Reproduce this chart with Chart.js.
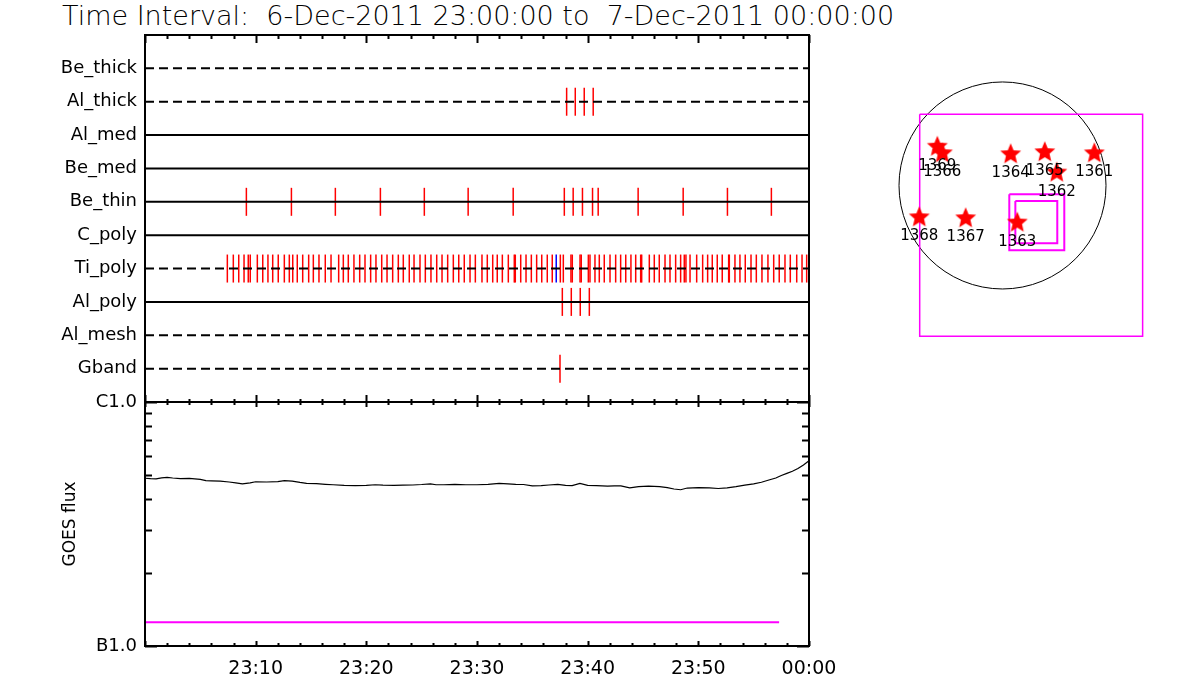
<!DOCTYPE html>
<html><head><meta charset="utf-8">
<script src="https://cdn.jsdelivr.net/npm/chart.js@4.4.1/dist/chart.umd.min.js"></script>
<style>
html,body{margin:0;padding:0;background:#fff;width:1200px;height:700px;overflow:hidden;}
#title{position:absolute;left:62px;top:0px;font-family:'DejaVu Sans';font-weight:200;font-size:27px;white-space:pre;color:#000;line-height:32px;}
canvas{position:absolute;}
#top{left:0;top:0;}
#goes{left:0;top:380px;}
#map{left:880px;top:50px;}
</style></head><body>
<div id="title">Time Interval:  6-Dec-2011 23:00:00 to  7-Dec-2011 00:00:00</div>
<canvas id="top" width="860" height="410"></canvas>
<canvas id="goes" width="860" height="300"></canvas>
<canvas id="map" width="300" height="310"></canvas>
<script>
// ---------------- DATA ----------------
// minutes after 23:00 on 6-Dec-2011
const timeTickMinutes = [10, 20, 30, 40, 50, 60];
const timeTickLabels = ['23:10', '23:20', '23:30', '23:40', '23:50', '00:00'];
const rowNames = ['Be_thick', 'Al_thick', 'Al_med', 'Be_med', 'Be_thin', 'C_poly', 'Ti_poly', 'Al_poly', 'Al_mesh', 'Gband'];
const alThickTimes = [38.10, 38.88, 39.69, 40.50];
const beThinTimes = [9.16, 13.23, 17.20, 21.27, 25.24, 29.20, 33.27, 37.89, 38.69, 39.53, 40.44, 40.95, 44.56, 48.63, 52.63, 56.60];
const tiPolyTimes = [7.44, 7.98, 8.47, 8.95, 9.33, 9.51, 10.15, 10.64, 11.11, 11.54, 12.04, 12.59, 13.04, 13.35, 13.76, 14.25, 14.79, 15.21, 15.72, 16.29, 16.81, 17.50, 17.92, 18.37, 18.88, 19.40, 19.88, 20.39, 20.87, 21.39, 21.87, 22.38, 22.89, 23.34, 23.88, 24.31, 24.85, 25.33, 25.84, 26.36, 26.84, 27.35, 27.86, 28.35, 28.85, 29.37, 29.85, 30.45, 30.93, 31.42, 31.83, 32.29, 32.83, 33.37, 33.46, 33.95, 34.43, 34.91, 35.39, 35.85, 36.35, 36.80, 37.53, 37.80, 38.49, 38.61, 39.31, 39.42, 40.06, 40.21, 40.66, 41.05, 41.50, 42.02, 42.53, 42.98, 43.44, 43.91, 44.34, 44.79, 44.88, 45.57, 46.02, 46.47, 46.99, 47.44, 47.95, 48.40, 48.73, 48.88, 49.25, 49.85, 50.39, 50.84, 51.26, 51.71, 52.16, 52.74, 52.80, 53.31, 53.76, 54.24, 54.76, 55.24, 55.75, 56.29, 56.81, 57.31, 57.83, 58.31, 58.89, 59.37, 59.79];
const tiPolyBlueTimes = [37.16];
const alPolyTimes = [37.71, 38.52, 39.33, 40.15];
const gbandTimes = [37.50];

const goesMinutes = [0, 0.5, 1, 1.5, 2, 2.5, 3.2, 4, 5, 5.5, 6, 6.8, 7.6, 8.2, 8.8, 9.5, 10, 11, 12, 12.6, 13.3, 14, 14.6, 15.5, 16.3, 17, 18, 19, 20, 20.8, 21.5, 22.5, 23.3, 24.2, 25, 25.8, 26.3, 27, 28, 29, 30, 31, 32, 32.8, 33.5, 34.2, 35, 35.8, 36.5, 37.3, 38, 38.6, 39.3, 40, 40.8, 41.8, 42.4, 43, 43.8, 44.6, 45.5, 46.5, 47.2, 47.8, 48.4, 49, 50, 51, 51.8, 52.6, 53.4, 54.2, 55, 55.7, 56.3, 57, 57.5, 58, 58.5, 59, 59.5, 60];
// GOES flux in units of 1e-7 W/m^2
const goesFlux = [4.87, 4.85, 4.84, 4.89, 4.91, 4.88, 4.85, 4.86, 4.82, 4.76, 4.75, 4.74, 4.70, 4.66, 4.62, 4.66, 4.71, 4.70, 4.72, 4.76, 4.74, 4.68, 4.64, 4.63, 4.60, 4.58, 4.55, 4.54, 4.55, 4.58, 4.56, 4.55, 4.56, 4.57, 4.59, 4.62, 4.58, 4.58, 4.60, 4.58, 4.58, 4.60, 4.64, 4.62, 4.60, 4.59, 4.53, 4.54, 4.57, 4.60, 4.55, 4.54, 4.64, 4.55, 4.54, 4.52, 4.53, 4.53, 4.45, 4.50, 4.52, 4.50, 4.46, 4.40, 4.37, 4.44, 4.46, 4.45, 4.42, 4.45, 4.50, 4.56, 4.62, 4.69, 4.78, 4.88, 5.00, 5.10, 5.20, 5.34, 5.52, 5.75];
const backgroundLevel = 1.25;   // 1e-7 W/m^2
const backgroundMinutes = [0, 57.3];
const goesTickValues = [1e-7, 1e-6];
const goesTickLabels = ['B1.0', 'C1.0'];

// Active regions (arcsec)
const arNumbers = ['1369', '1366', '1364', '1365', '1362', '1361', '1368', '1367', '1363'];
const arX = [-614, -567, 77, 398, 511, 865, -784, -347, 139];
const arY = [365, 303, 294, 313, 121, 303, -300, -309, -350];
const solarRadius = 975;
// boxes: [xmin, xmax, ymin, ymax] arcsec
const fovBoxes = [[-780, 1320, -1420, 670], [64, 582, -610, -83], [121, 516, -544, -146]];

// ---------------- STYLE ----------------
const dashedRows = ['Be_thick', 'Al_thick', 'Ti_poly', 'Al_mesh', 'Gband'];
const FONT = 'DejaVu Sans';
Chart.defaults.font.family = FONT;
Chart.defaults.color = '#000';

function tickSet(times, row, color) {
  const y = rowNames.indexOf(row) + 1;
  return {
    type: 'scatter',
    data: times.map(t => ({x: t, y: y})),
    pointStyle: 'line', pointRotation: 90, pointRadius: 14, pointHoverRadius: 14,
    borderColor: color, pointBorderColor: color, borderWidth: 1.5, pointBorderWidth: 1.5,
    order: 1
  };
}
function noPad(s) { s.paddingTop = 0; s.paddingBottom = 0; s.paddingLeft = 0; s.paddingRight = 0; }

function framePlugin(cfg) {
  return {
    id: 'frame' + cfg.id,
    afterDraw(chart) {
      const {ctx, chartArea: a, scales} = chart;
      const xs = scales.x, ys = scales.y;
      ctx.save();
      ctx.strokeStyle = '#000';
      ctx.lineWidth = 2;
      ctx.strokeRect(a.left, a.top, a.right - a.left, a.bottom - a.top);
      ctx.beginPath();
      for (let m = 0; m <= 60; m += 2) {
        const px = Math.round(xs.getPixelForValue(m)) + 0.5;
        const major = m % 10 === 0;
        if (cfg.top) { const L = major ? cfg.topMajor : cfg.topMinor; ctx.moveTo(px, a.top); ctx.lineTo(px, a.top + L); }
        if (cfg.bottom) { const L = major ? cfg.botMajor : cfg.botMinor; ctx.moveTo(px, a.bottom); ctx.lineTo(px, a.bottom - L); }
      }
      if (cfg.yTicks) {
        cfg.yTicks.forEach(([v, L]) => {
          const py = Math.round(ys.getPixelForValue(v)) + 0.5;
          ctx.moveTo(a.left, py); ctx.lineTo(a.left + L, py);
          ctx.moveTo(a.right, py); ctx.lineTo(a.right - L, py);
        });
      }
      ctx.stroke();
      ctx.restore();
    }
  };
}

// ---------------- TOP PANEL ----------------
const topDatasets = rowNames.map((n, i) => ({
  type: 'line',
  data: [{x: 0, y: i + 1}, {x: 60, y: i + 1}],
  borderColor: '#000', borderWidth: 2,
  borderDash: dashedRows.includes(n) ? [9, 5] : [],
  pointRadius: 0, order: 0
}));
topDatasets.push(tickSet(alThickTimes, 'Al_thick', '#ff0000'));
topDatasets.push(tickSet(beThinTimes, 'Be_thin', '#ff0000'));
topDatasets.push(tickSet(tiPolyTimes, 'Ti_poly', '#ff0000'));
topDatasets.push(tickSet(tiPolyBlueTimes, 'Ti_poly', '#0000ff'));
topDatasets.push(tickSet(alPolyTimes, 'Al_poly', '#ff0000'));
topDatasets.push(tickSet(gbandTimes, 'Gband', '#ff0000'));

new Chart(document.getElementById('top'), {
  type: 'scatter',
  data: {datasets: topDatasets},
  options: {
    responsive: false, animation: false, events: [],
    layout: {autoPadding: false, padding: {left: 0, right: 51, top: 35, bottom: 8}},
    plugins: {legend: {display: false}, tooltip: {enabled: false}},
    scales: {
      x: {type: 'linear', min: 0, max: 60, display: false},
      y: {
        type: 'linear', min: 0, max: 11, reverse: true,
        grid: {display: false, drawTicks: false}, border: {display: false},
        afterBuildTicks: s => { s.ticks = rowNames.map((n, i) => ({value: i + 1})); },
        afterFit: s => { s.width = 145; noPad(s); },
        ticks: {callback: v => rowNames[v - 1] || '', padding: 8, autoSkip: false, font: {size: 18}}
      }
    }
  },
  plugins: [framePlugin({id: 'A', top: true, bottom: true, topMajor: 8, topMinor: 4, botMajor: 7, botMinor: 3})]
});

// ---------------- GOES PANEL ----------------
const minorLog = [];
for (let k = 2; k <= 9; k++) minorLog.push([k * 1e-7, 7]);
const yTickMarks = minorLog.concat([[1e-7, 12], [1e-6, 12]]);

new Chart(document.getElementById('goes'), {
  type: 'line',
  data: {
    datasets: [
      {
        data: goesMinutes.map((t, i) => ({x: t, y: goesFlux[i] * 1e-7})),
        borderColor: '#000', borderWidth: 1.2, pointRadius: 0, tension: 0
      },
      {
        data: backgroundMinutes.map(t => ({x: t, y: backgroundLevel * 1e-7})),
        borderColor: '#ff00ff', borderWidth: 2, pointRadius: 0
      }
    ]
  },
  options: {
    responsive: false, animation: false, events: [],
    layout: {autoPadding: false, padding: {left: 0, right: 51, top: 22, bottom: 4}},
    plugins: {legend: {display: false}, tooltip: {enabled: false}},
    scales: {
      x: {
        type: 'linear', min: 0, max: 60,
        grid: {display: false, drawTicks: false}, border: {display: false},
        afterBuildTicks: s => { s.ticks = timeTickMinutes.map(v => ({value: v})); },
        afterFit: s => { s.height = 30; noPad(s); },
        ticks: {callback: v => timeTickLabels[timeTickMinutes.indexOf(v)], padding: 12, maxRotation: 0, autoSkip: false, font: {size: 19}}
      },
      y: {
        type: 'logarithmic', min: 1e-7, max: 1e-6,
        grid: {display: false, drawTicks: false}, border: {display: false},
        afterBuildTicks: s => { s.ticks = goesTickValues.map(v => ({value: v})); },
        afterFit: s => { s.width = 145; noPad(s); },
        ticks: {callback: (v, i) => goesTickLabels[i], padding: 8, autoSkip: false, font: {size: 18}},
        title: {display: true, text: 'GOES flux', font: {size: 17}, padding: {top: 60, bottom: 0}}
      }
    }
  },
  plugins: [framePlugin({id: 'B', top: true, bottom: true, topMajor: 5, topMinor: 3, botMajor: 5, botMinor: 3, yTicks: yTickMarks})]
});

// ---------------- MAP ----------------
function makeStar(r) {
  const c = document.createElement('canvas');
  const s = Math.ceil(r * 2) + 2;
  c.width = c.height = s;
  const g = c.getContext('2d');
  g.fillStyle = '#ff0000';
  g.beginPath();
  for (let i = 0; i < 10; i++) {
    const rr = i % 2 ? r * 0.45 : r;
    const ang = -Math.PI / 2 + i * Math.PI / 5;
    g.lineTo(s / 2 + rr * Math.cos(ang), s / 2 + rr * Math.sin(ang));
  }
  g.closePath();
  g.fill();
  return c;
}
const starImg = makeStar(11);

const mapDatasets = fovBoxes.map((b, i) => ({
  type: 'line',
  data: [{x: b[0], y: b[3]}, {x: b[1], y: b[3]}, {x: b[1], y: b[2]}, {x: b[0], y: b[2]}, {x: b[0], y: b[3]}],
  borderColor: '#ff00ff', borderWidth: i === 0 ? 1.5 : 2, pointRadius: 0, tension: 0, order: 2
}));
mapDatasets.push({
  type: 'scatter',
  data: arX.map((x, i) => ({x: x, y: arY[i]})),
  pointStyle: starImg, pointRadius: 11, order: 0
});

const mapPlugin = {
  id: 'sunmap',
  beforeDatasetsDraw(chart) {
    const {ctx, scales: {x, y}} = chart;
    const cx = x.getPixelForValue(0), cy = y.getPixelForValue(0);
    const rx = x.getPixelForValue(solarRadius) - cx;
    const ry = cy - y.getPixelForValue(solarRadius);
    ctx.save();
    ctx.strokeStyle = '#000'; ctx.lineWidth = 1;
    ctx.beginPath(); ctx.ellipse(cx, cy, rx, ry, 0, 0, Math.PI * 2); ctx.stroke();
    ctx.restore();
  },
  afterDatasetsDraw(chart) {
    const {ctx} = chart;
    const meta = chart.getDatasetMeta(chart.data.datasets.length - 1);
    ctx.save();
    ctx.fillStyle = '#000';
    ctx.font = '15px "' + FONT + '"';
    ctx.textAlign = 'center'; ctx.textBaseline = 'middle';
    meta.data.forEach((el, i) => ctx.fillText(arNumbers[i], el.x, el.y + 19));
    ctx.restore();
  }
};

new Chart(document.getElementById('map'), {
  type: 'scatter',
  data: {datasets: mapDatasets},
  options: {
    responsive: false, animation: false, events: [],
    layout: {autoPadding: false, padding: 0},
    plugins: {legend: {display: false}, tooltip: {enabled: false}},
    scales: {
      x: {type: 'linear', min: -1154, max: 1672, display: false},
      y: {type: 'linear', min: -1644, max: 1276, display: false}
    }
  },
  plugins: [mapPlugin]
});
</script>
</body></html>
